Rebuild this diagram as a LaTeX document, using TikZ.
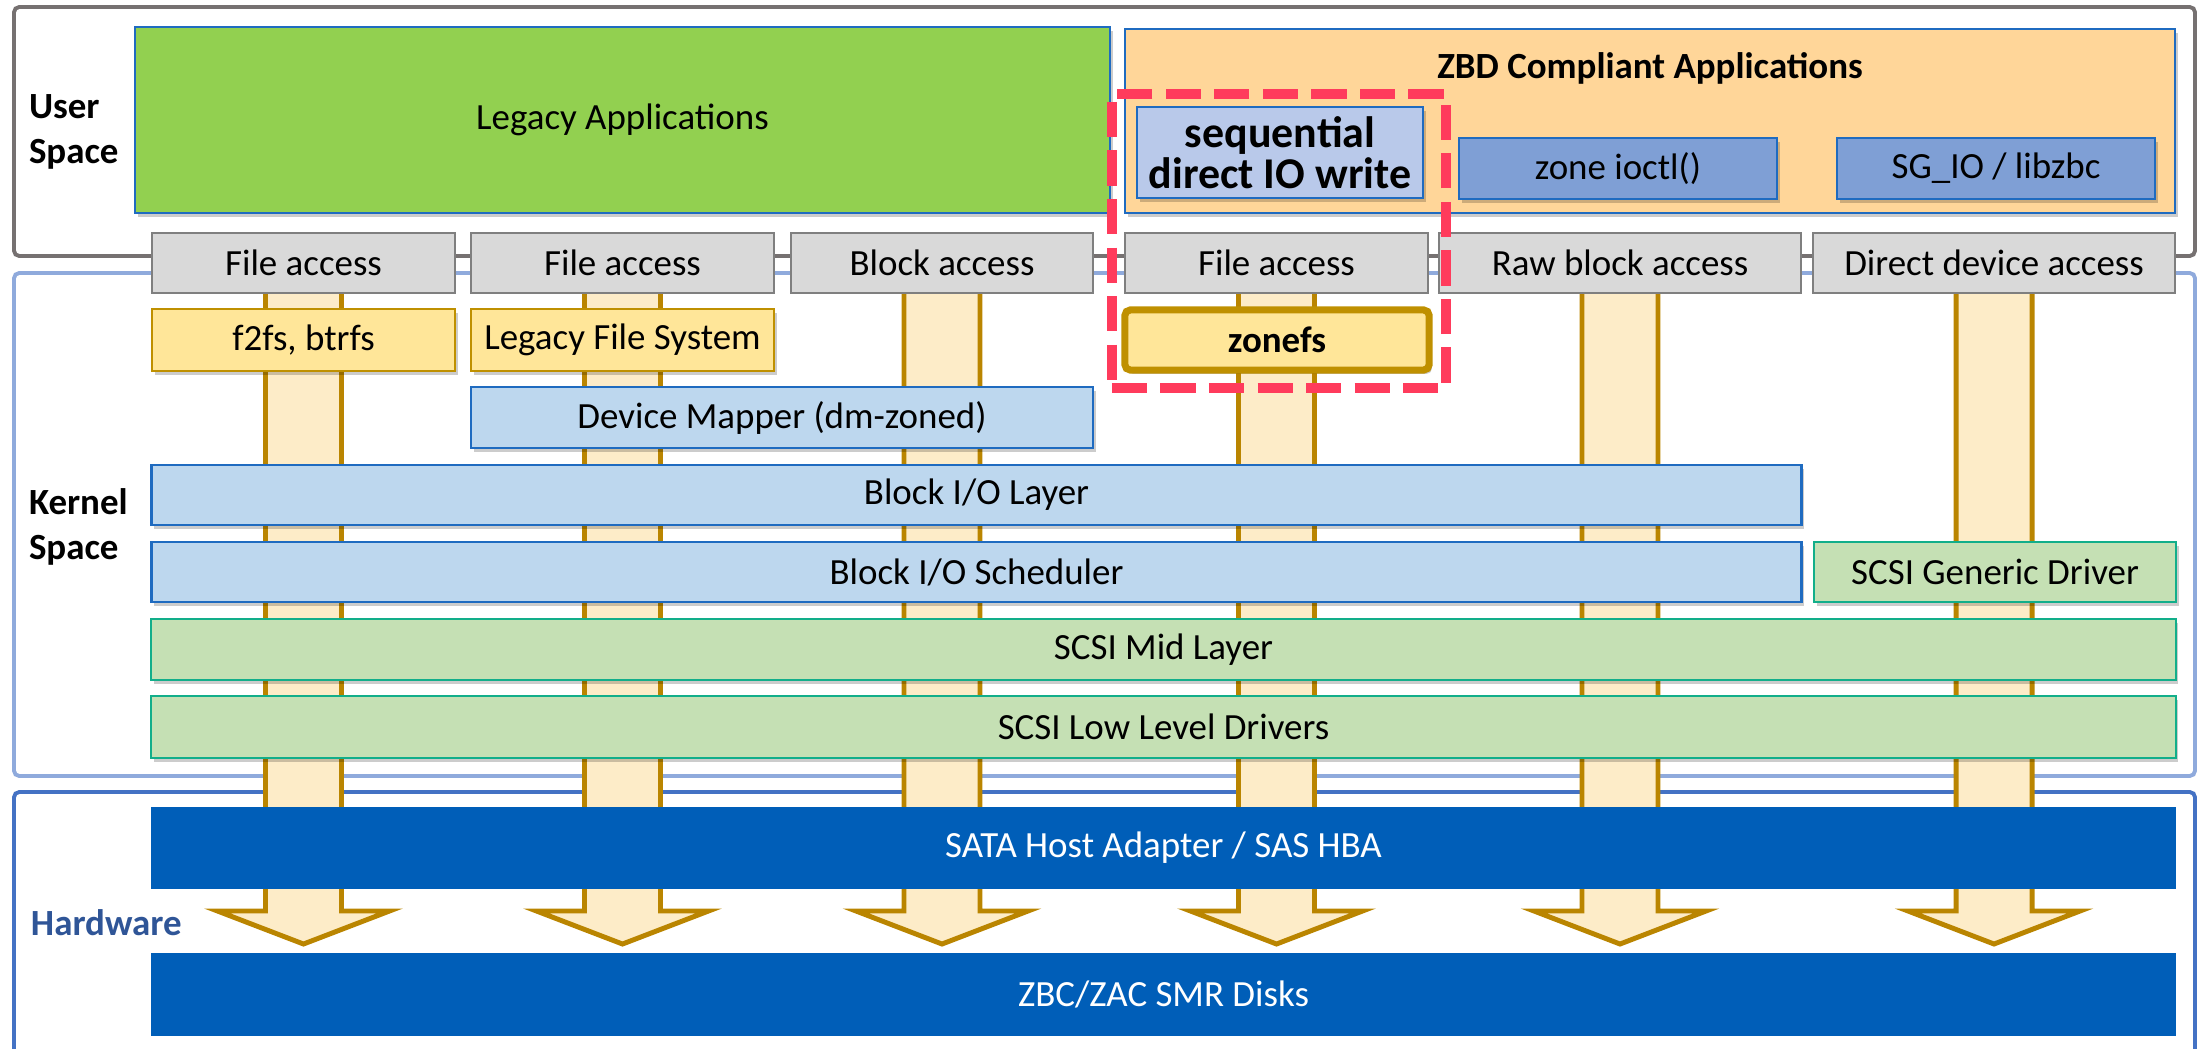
\documentclass[tikz,border=0pt]{standalone}
\usepackage{fontspec}
\setmainfont{Carlito}
\usetikzlibrary{shadows}

\definecolor{userframe}{HTML}{767171}
\definecolor{kernelframe}{HTML}{8FAADC}
\definecolor{hwframe}{HTML}{4472C4}
\definecolor{legacygreen}{HTML}{92D050}
\definecolor{zbdorange}{HTML}{FFD699}
\definecolor{boxblue}{HTML}{1F6BC0}
\definecolor{seqfill}{HTML}{B9C9EA}
\definecolor{ioctlfill}{HTML}{7F9FD5}
\definecolor{accfill}{HTML}{D9D9D9}
\definecolor{accline}{HTML}{7F7F7F}
\definecolor{fsfill}{HTML}{FFE699}
\definecolor{gold}{HTML}{BF9000}
\definecolor{blkfill}{HTML}{BDD7EE}
\definecolor{scsifill}{HTML}{C5E0B4}
\definecolor{scsiline}{HTML}{12AE8A}
\definecolor{hwfill}{HTML}{005EB8}
\definecolor{flowfill}{HTML}{FDECC8}
\definecolor{flowline}{HTML}{BA8500}
\definecolor{focusred}{HTML}{FF3B5C}
\definecolor{hwtext}{HTML}{2F5597}

\pgfdeclarelayer{frames}
\pgfdeclarelayer{flows}
\pgfsetlayers{frames,flows,main}

% box from corner (x1,y1) to corner (x2,y2), in pixel units
\newcommand{\pbox}[7]{%
  \pgfmathsetmacro\pbcx{(#3+#5)/2}%
  \pgfmathsetmacro\pbcy{(#4+#6)/2}%
  \pgfmathsetmacro\pbw{(#5-#3)/100}%
  \pgfmathsetmacro\pbh{(#6-#4)/100}%
  \node[#1, minimum width=\pbw cm, minimum height=\pbh cm] (#2) at (\pbcx,\pbcy) {#7};}

\tikzset{
  every node/.style={font=\fontsize{10.5}{12.6}\selectfont, inner sep=0pt, outer sep=0pt},
  soft shadow/.style={drop shadow={shadow xshift=0.8pt, shadow yshift=-1.1pt, opacity=0.2, fill=black}},
  frame/.style={line width=1.1pt, rounded corners=1.5pt},
  appbox/.style={rectangle, draw=boxblue, line width=0.5pt, soft shadow},
  accbox/.style={rectangle, draw=accline, fill=accfill, line width=0.6pt},
  fsbox/.style={rectangle, draw=gold, fill=fsfill, line width=0.6pt, soft shadow},
  blkbox/.style={rectangle, draw=boxblue, fill=blkfill, line width=0.6pt, soft shadow},
  scsibox/.style={rectangle, draw=scsiline, fill=scsifill, line width=0.6pt, soft shadow},
  hwbox/.style={rectangle, fill=hwfill, text=white},
  flow/.style={draw=flowline, fill=flowfill, line width=1.4pt, line join=miter},
  focus/.style={rectangle, draw=focusred, line width=2.8pt, dash pattern=on 10pt off 3.8pt},
  sidelabel/.style={anchor=west, align=left, font=\bfseries\fontsize{10.5}{12.8}\selectfont},
}

\begin{document}
\begin{tikzpicture}[x=0.01cm, y=-0.01cm]
\useasboundingbox (0,0) rectangle (2201,1049);

% space frames
\begin{pgfonlayer}{frames}
  \draw[frame, draw=userframe] (14,7) rectangle (2195,256);
  \draw[frame, draw=kernelframe] (14,273) rectangle (2195,776);
  \draw[frame, draw=hwframe] (14,1080) -- (14,792) -- (2195,792) -- (2195,1080);
\end{pgfonlayer}

% side labels
\node[sidelabel] (userlbl) at (29,132) {User\\Space};
\node[sidelabel] (kernellbl) at (29,527) {Kernel\\Space};
\node[sidelabel, text=hwtext] (hwlbl) at (31,923) {Hardware};

% user space applications
\pbox{appbox, fill=legacygreen}{legacy}{135}{27}{1110}{213}{Legacy Applications}
\pbox{appbox, fill=zbdorange}{zbd}{1125}{29}{2175}{213}{}
\node[font=\bfseries\fontsize{10.5}{12.6}\selectfont] (zbdtitle) at (1650,68) {ZBD Compliant Applications};
\pbox{appbox, fill=seqfill, align=center, font=\bfseries\fontsize{12.5}{10.6}\selectfont}{seq}{1137}{107}{1423}{198}{sequential\\direct IO write}
\pbox{appbox, fill=ioctlfill}{ioctl}{1459}{138}{1777}{199}{zone ioctl()}
\pbox{appbox, fill=ioctlfill}{sgio}{1837}{138}{2155}{199}{SG\_IO / libzbc}

% access paths
\pbox{accbox}{acc1}{152}{233}{455}{293}{File access}
\pbox{accbox}{acc2}{471}{233}{774}{293}{File access}
\pbox{accbox}{acc3}{791}{233}{1093}{293}{Block access}
\pbox{accbox}{acc4}{1125}{233}{1428}{293}{File access}
\pbox{accbox}{acc5}{1439}{233}{1801}{293}{Raw block access}
\pbox{accbox}{acc6}{1813}{233}{2175}{293}{Direct device access}

% I/O flow arrows down to the disks
\begin{pgfonlayer}{flows}
  \foreach \a in {acc1,acc2,acc3,acc4,acc5,acc6}
    \draw[flow] (\a.south) ++(-38,-8) -- ++(0,626) -- ++(-48,0) -- ++(86,33)
      -- ++(86,-33) -- ++(-48,0) -- ++(0,-626) -- cycle;
\end{pgfonlayer}

% kernel layers
\pbox{fsbox}{f2fs}{152}{309}{455}{371}{f2fs, btrfs}
\pbox{fsbox}{legacyfs}{471}{309}{774}{371}{Legacy File System}
\pbox{fsbox, line width=2pt, rounded corners=1.5pt, font=\bfseries\fontsize{10.5}{12.6}\selectfont}{zonefs}{1125}{310}{1429}{370}{zonefs}
\pbox{blkbox}{dm}{471}{387}{1093}{448}{Device Mapper (dm-zoned)}
\pbox{blkbox}{bio}{152}{465}{1801}{525}{Block I/O Layer}
\pbox{blkbox}{sched}{152}{542}{1801}{602}{Block I/O Scheduler}
\pbox{scsibox}{sg}{1814}{542}{2176}{602}{SCSI Generic Driver}
\pbox{scsibox}{mid}{152}{619}{2175}{680}{SCSI Mid Layer}
\pbox{scsibox}{lld}{152}{696}{2175}{758}{SCSI Low Level Drivers}

% hardware
\pbox{hwbox}{hba}{152}{807}{2175}{889}{SATA Host Adapter / SAS HBA}
\pbox{hwbox}{disks}{152}{953}{2175}{1036}{ZBC/ZAC SMR Disks}

% highlighted zonefs path
\pbox{focus}{zpath}{1112}{94}{1446}{388}{}
\end{tikzpicture}
\end{document}
